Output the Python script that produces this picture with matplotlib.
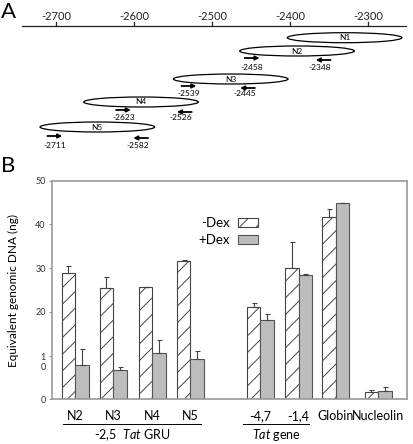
import matplotlib
matplotlib.use('Agg')
import matplotlib.pyplot as plt
import matplotlib.transforms as mtransforms
from matplotlib.patches import Ellipse
import numpy as np

plt.rcParams['font.family'] = ['Lato', 'DejaVu Sans']
plt.rcParams['mathtext.fontset'] = 'custom'
plt.rcParams['mathtext.it'] = 'Lato:italic'
plt.rcParams['mathtext.rm'] = 'Lato'
plt.rcParams['hatch.linewidth'] = 0.7

# ---- panel A data ----
nuc_names = ['N1', 'N2', 'N3', 'N4', 'N5']
nuc_centers = [-2330, -2391, -2476, -2591, -2647]   # bp
nuc_size = 147
fwd_primers = [-2458, -2539, -2623, -2711]          # N2..N5
rev_primers = [-2348, -2445, -2526, -2582]
scale_ticks = [-2700, -2600, -2500, -2400, -2300]

# ---- panel B data ----
categories = ['N2', 'N3', 'N4', 'N5', '-4,7', '-1,4', 'Globin', 'Nucleolin']
minus_dex = [28.8, 25.5, 25.6, 31.7, 21.0, 30.0, 41.6, 1.6]
minus_err = [1.7, 2.4, 0.2, 0.1, 1.0, 6.0, 1.9, 0.5]
plus_dex = [7.8, 6.8, 10.5, 9.3, 18.1, 28.4, 44.9, 2.0]
plus_err = [3.8, 0.7, 3.0, 1.7, 1.5, 0.3, 0.0, 0.7]

W, H = 413, 444
fig = plt.figure(figsize=(W / 100, H / 100), dpi=100)

# ================= panel A =================
axA = fig.add_axes([0, 1 - 160 / H, 1, 160 / H])
axA.set_xlim(-2771.8, -2242.3)
axA.set_ylim(160, 0)
axA.axis('off')

axA.plot([-2743.6, -2251], [26, 26], color='#222222', lw=0.9)
for t in scale_ticks:
    axA.plot([t, t], [22, 26], color='#222222', lw=0.9)
    axA.text(t, 16.5, str(t), ha='center', va='center', fontsize=8, color='#222222')

rows = [37.7, 51, 79, 102, 127]
for name, c, y in zip(nuc_names, nuc_centers, rows):
    axA.add_patch(Ellipse((c, y), nuc_size, 10, fill=False, lw=0.9, ec='black'))
    axA.text(c, y, name, ha='center', va='center', fontsize=6)

arrow_y = [58, 86, 110, 136]
label_y = [67, 93, 118, 146]
alen = 19
for f, r, ya, yl in zip(fwd_primers, rev_primers, arrow_y, label_y):
    axA.annotate('', xy=(f + alen, ya), xytext=(f, ya),
                 arrowprops=dict(arrowstyle='-|>', lw=1.3, color='black',
                                 mutation_scale=6, shrinkA=0, shrinkB=0))
    axA.annotate('', xy=(r - alen, ya + 2), xytext=(r, ya + 2),
                 arrowprops=dict(arrowstyle='-|>', lw=1.3, color='black',
                                 mutation_scale=6, shrinkA=0, shrinkB=0))
    axA.text(f + alen / 2, yl, str(f), ha='center', va='center', fontsize=6)
    axA.text(r - alen / 2 - 4, yl, str(r), ha='center', va='center', fontsize=6)

fig.text(1 / W, 1 - 12.5 / H, 'A', fontsize=16, ha='left', va='center')
fig.text(1 / W, 1 - 166 / H, 'B', fontsize=16, ha='left', va='center')

# ================= panel B =================
axB = fig.add_axes([52 / W, (H - 399.3) / H, 354.7 / W, 218.6 / H])
pos = np.array([0, 1, 2.03, 3.03, 4.87, 5.88, 6.85, 7.97])
bw = 0.355

axB.bar(pos - bw / 2, minus_dex, bw, color='white', edgecolor='#444444',
        hatch='//', lw=0.8, label='-Dex', zorder=2)
axB.bar(pos + bw / 2, plus_dex, bw, color='#bdbdbd', edgecolor='#555555',
        lw=0.8, label='+Dex', zorder=2)
axB.errorbar(pos - bw / 2, minus_dex, yerr=[np.zeros(len(pos)), minus_err],
             fmt='none', ecolor='#444444', elinewidth=0.8, capsize=1.8, capthick=0.8, zorder=3)
axB.errorbar(pos + bw / 2, plus_dex, yerr=[np.zeros(len(pos)), plus_err],
             fmt='none', ecolor='#444444', elinewidth=0.8, capsize=1.8, capthick=0.8, zorder=3)

axB.set_xlim(-0.61, 8.72)
axB.set_ylim(0, 50)
axB.set_xticks(pos)
axB.set_xticklabels(categories, fontsize=9)
axB.tick_params(axis='x', length=0, pad=8)
axB.set_yticks([0, 10, 20, 30, 40, 50])
axB.set_yticklabels(['0', '1\n0', '20', '30', '40', '50'], fontsize=6.5, color='#333333')
axB.tick_params(axis='y', length=2.5, width=0.8, color='#999999', pad=2)
lab10 = axB.get_yticklabels()[1]
lab10.set_va('top')
lab10.set_multialignment('center')
lab10.set_transform(lab10.get_transform() +
                    mtransforms.ScaledTranslation(0, 2 / 72, fig.dpi_scale_trans))
for s in axB.spines.values():
    s.set_color('#9a9a9a')
    s.set_linewidth(1.2)
axB.set_ylabel('Equivalent genomic DNA (ng)', fontsize=8.5, labelpad=12)

axB.legend(loc='upper right', bbox_to_anchor=((258 - 52) / 354.7, (399.3 - 217) / 218.6),
           frameon=False, markerfirst=False, fontsize=9.5, handlelength=1.5,
           handleheight=0.6, handletextpad=0.6, labelspacing=0.4, borderpad=0,
           borderaxespad=0)

# group brackets under the axis
tr = mtransforms.blended_transform_factory(axB.transData, axB.transAxes)
axB.plot([-0.32, 3.31], [-0.113, -0.113], color='black', lw=0.7, transform=tr, clip_on=False)
axB.plot([4.41, 6.16], [-0.113, -0.113], color='black', lw=0.7, transform=tr, clip_on=False)
axB.text(1.5, -0.165, r'-2,5  $\it{Tat}$ GRU', ha='center', va='center', fontsize=9,
         transform=tr)
axB.text(5.3, -0.165, r'$\it{Tat}$ gene', ha='center', va='center', fontsize=9,
         transform=tr)

fig.savefig('out.png', dpi=100)
